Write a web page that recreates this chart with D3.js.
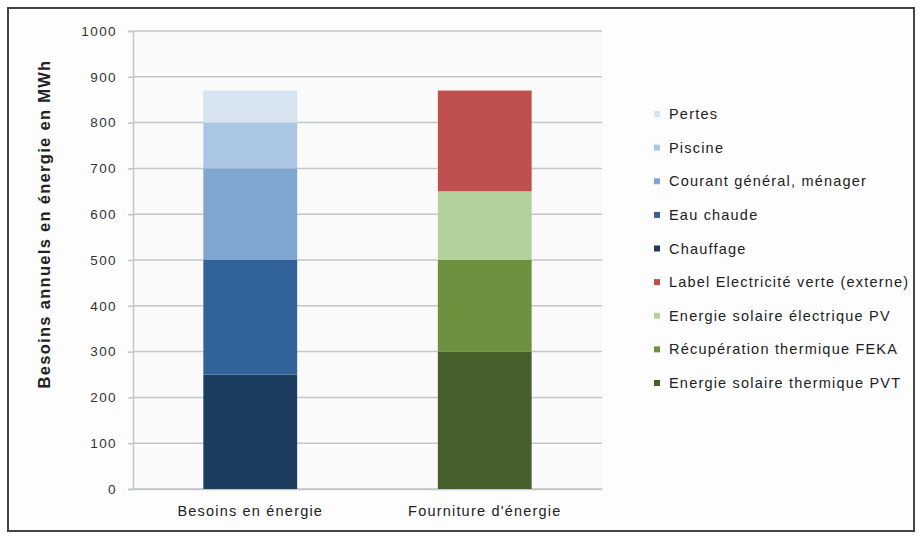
<!DOCTYPE html>
<html>
<head>
<meta charset="utf-8">
<script src="https://cdn.jsdelivr.net/npm/d3@7"></script>
<style>
  html, body { margin: 0; padding: 0; background: #ffffff; }
  svg { display: block; font-family: "Liberation Sans", Arial, sans-serif; }
</style>
</head>
<body>
<svg id="chart" width="923" height="537"></svg>
<script>
// Annual energy needs vs. energy supply (MWh)
const categories = ["Besoins en énergie", "Fourniture d'énergie"];

// Series, bottom to top within each column
const demandSeries = ["Chauffage", "Eau chaude", "Courant général, ménager", "Piscine", "Pertes"];
const demandValues = [250, 250, 200, 100, 70];
const demandColors = ["#1d3d60", "#32629a", "#7fa6d1", "#aac6e4", "#d6e3f0"];

const supplySeries = ["Energie solaire thermique PVT", "Récupération thermique FEKA", "Energie solaire électrique PV", "Label Electricité verte (externe)"];
const supplyValues = [300, 200, 150, 220];
const supplyColors = ["#475f2a", "#6e9140", "#b3d19a", "#c0504d"];

const yTicks = [0, 100, 200, 300, 400, 500, 600, 700, 800, 900, 1000];
const yTitle = "Besoins annuels en énergie en MWh";

// Legend order (top to bottom)
const legendSeries = ["Pertes", "Piscine", "Courant général, ménager", "Eau chaude", "Chauffage",
  "Label Electricité verte (externe)", "Energie solaire électrique PV", "Récupération thermique FEKA", "Energie solaire thermique PVT"];

const svg = d3.select("#chart");

// outer frame
svg.append("rect").attr("x", 8).attr("y", 8).attr("width", 906).attr("height", 523)
  .attr("fill", "#fdfdfd").attr("stroke", "#444").attr("stroke-width", 2);

const plot = { left: 133, right: 602, top: 31, bottom: 489 };

const x = d3.scaleBand().domain(categories).range([plot.left, plot.right]).padding(0);
const y = d3.scaleLinear().domain([0, 1000]).range([plot.bottom, plot.top]);

// plot background
svg.append("rect").attr("x", plot.left).attr("y", plot.top)
  .attr("width", plot.right - plot.left).attr("height", plot.bottom - plot.top)
  .attr("fill", "#fafafa");

// gridlines
svg.append("g").selectAll("line").data(yTicks).join("line")
  .attr("x1", plot.left).attr("x2", plot.right)
  .attr("y1", d => y(d)).attr("y2", d => y(d))
  .attr("stroke", "#c4c6c8").attr("stroke-width", 1.5);

// y axis
const yAxis = d3.axisLeft(y).tickValues(yTicks).tickFormat(d3.format("d")).tickSize(5).tickPadding(11);
const gy = svg.append("g").attr("transform", `translate(${plot.left},0)`).call(yAxis);
gy.select(".domain").attr("stroke", "#c4c6c8").attr("stroke-width", 1.5);
gy.selectAll(".tick line").attr("stroke", "#c4c6c8").attr("stroke-width", 1.5);
gy.selectAll(".tick text").attr("fill", "#333").attr("font-size", 13.5)
  .attr("letter-spacing", 1.4)
  .attr("font-family", "'Liberation Sans', Arial, sans-serif");

// x axis
const xAxis = d3.axisBottom(x).tickSize(0).tickPadding(17);
const gx = svg.append("g").attr("transform", `translate(0,${plot.bottom})`).call(xAxis);
gx.select(".domain").attr("stroke", "#c4c6c8").attr("stroke-width", 1.5);
gx.selectAll(".tick text").attr("fill", "#222").attr("font-size", 14.5)
  .attr("letter-spacing", 1.2)
  .attr("font-family", "'Liberation Sans', Arial, sans-serif");

// stacked bars
const barW = x.bandwidth() * 0.4;
function drawStack(cat, names, values, colors) {
  let base = 0;
  const segs = values.map((v, i) => {
    const s = { name: names[i], y0: base, y1: base + v, color: colors[i] };
    base += v;
    return s;
  });
  svg.append("g").selectAll("rect").data(segs).join("rect")
    .attr("x", x(cat) + (x.bandwidth() - barW) / 2)
    .attr("width", barW)
    .attr("y", d => y(d.y1))
    .attr("height", d => y(d.y0) - y(d.y1))
    .attr("fill", d => d.color);
}
drawStack(categories[0], demandSeries, demandValues, demandColors);
drawStack(categories[1], supplySeries, supplyValues, supplyColors);

// y title
svg.append("text")
  .attr("transform", "translate(50,224) rotate(-90)")
  .attr("text-anchor", "middle")
  .attr("font-size", 16.5).attr("font-weight", "bold").attr("fill", "#222")
  .attr("letter-spacing", 1.3)
  .text(yTitle);

// legend
const colorOf = {};
demandSeries.forEach((s, i) => colorOf[s] = demandColors[i]);
supplySeries.forEach((s, i) => colorOf[s] = supplyColors[i]);

const ly = d3.scalePoint().domain(legendSeries).range([114, 383]);
const lg = svg.append("g").selectAll("g").data(legendSeries).join("g")
  .attr("transform", d => `translate(654,${ly(d)})`);
lg.append("rect").attr("x", 0).attr("y", -3).attr("width", 6).attr("height", 6)
  .attr("fill", d => colorOf[d]);
lg.append("text").attr("x", 15).attr("y", 0).attr("dy", "0.35em")
  .attr("font-size", 14.5).attr("fill", "#222").attr("letter-spacing", 1.2)
  .text(d => d);
</script>
</body>
</html>
